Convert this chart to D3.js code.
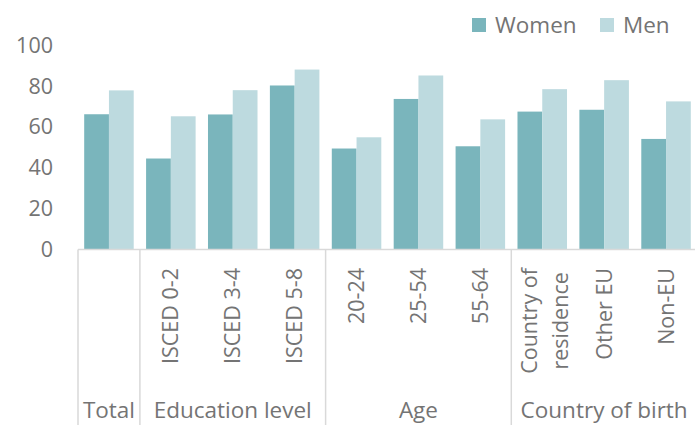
<!DOCTYPE html>
<html>
<head>
<meta charset="utf-8">
<script src="https://cdn.jsdelivr.net/npm/d3@7"></script>
<style>
  body { margin: 0; background: #fff; }
  svg { display: block; font-family: "Open Sans", Lato, sans-serif; }
</style>
</head>
<body>
<div class="chart"></div>
<script>
// data
const categories = ['total', 'isced02', 'isced34', 'isced58', 'a2024', 'a2554', 'a5564', 'cor', 'othereu', 'noneu'];
const tickLabels = [[], ['ISCED 0-2'], ['ISCED 3-4'], ['ISCED 5-8'], ['20-24'], ['25-54'], ['55-64'],
                    ['Country of', 'residence'], ['Other EU'], ['Non-EU']];
const women = [66.3, 44.6, 66.2, 80.4, 49.5, 73.8, 50.6, 67.6, 68.5, 54.2];
const men = [78.0, 65.3, 78.1, 88.2, 55.0, 85.3, 63.8, 78.6, 83.0, 72.6];
const groupNames = ['Total', 'Education level', 'Age', 'Country of birth'];
const groupSizes = [1, 3, 3, 3];
const yTicks = [0, 20, 40, 60, 80, 100];
const seriesNames = ['Women', 'Men'];
const seriesColors = ['#7ab5bc', '#bddadf'];

const W = 695, H = 425;
const textColor = '#747474';
const lineColor = '#d9d9d9';
const fontSize = '21.5px';
const bigFont = '22.5px';

const svg = d3.select('.chart').append('svg')
  .attr('width', W).attr('height', H);

// scales
const x = d3.scaleBand().domain(categories).range([78, 697])
  .paddingInner(0.2).paddingOuter(0.1);
const xSub = d3.scaleBand().domain(seriesNames).range([0, x.bandwidth()]);
const y = d3.scaleLinear().domain([0, 100]).range([249.5, 45.5]);
const step = x.step();
const left = x.range()[0];

// bars
const rows = categories.map((c, i) => ({ cat: c, values: [women[i], men[i]] }));
svg.append('g').selectAll('g')
  .data(rows)
  .join('g')
  .attr('transform', d => `translate(${x(d.cat)},0)`)
  .selectAll('rect')
  .data(d => d.values.map((v, j) => ({ name: seriesNames[j], value: v, color: seriesColors[j] })))
  .join('rect')
  .attr('x', d => xSub(d.name))
  .attr('width', xSub.bandwidth())
  .attr('y', d => y(d.value))
  .attr('height', d => y(0) - y(d.value))
  .attr('fill', d => d.color);

// y axis: labels only
const yAxis = d3.axisLeft(y).tickValues(yTicks).tickSize(0).tickPadding(0);
const yG = svg.append('g').attr('transform', 'translate(53,0)').call(yAxis);
yG.select('.domain').remove();
yG.selectAll('text')
  .attr('fill', textColor)
  .style('font-size', fontSize)
  .style('font-family', '"Open Sans", sans-serif');

// x axis line
svg.append('line')
  .attr('x1', left).attr('x2', W)
  .attr('y1', y(0)).attr('y2', y(0))
  .attr('stroke', lineColor).attr('stroke-width', 1.5);

// group separators
let acc = 0;
const bounds = [0];
groupSizes.forEach(n => { acc += n; bounds.push(acc); });
svg.append('g').selectAll('line')
  .data(bounds.slice(0, -1))
  .join('line')
  .attr('x1', d => left + d * step).attr('x2', d => left + d * step)
  .attr('y1', y(0)).attr('y2', H)
  .attr('stroke', lineColor).attr('stroke-width', 1.5);

// rotated category labels
const labG = svg.append('g').selectAll('g')
  .data(categories.map((c, i) => ({ cat: c, lines: tickLabels[i] })))
  .join('g')
  .attr('transform', d => `translate(${x(d.cat) + x.bandwidth() / 2},0)`);

labG.each(function (d) {
  const g = d3.select(this);
  const n = d.lines.length;
  const texts = g.selectAll('text')
    .data(d.lines)
    .join('text')
    .attr('fill', textColor)
    .style('font-size', fontSize)
    .text(t => t);
  // longest line sets where the block sits, the others are centred on it
  let maxLen = 0;
  texts.each(function () { maxLen = Math.max(maxLen, this.getComputedTextLength()); });
  const cy = 268 + maxLen / 2;
  texts
    .attr('text-anchor', 'middle')
    .attr('transform', (t, i) => `translate(${n === 1 ? 0 : -13 + i * 31},${cy}) rotate(-90)`)
    .attr('dy', '0.35em');
});

// group labels
svg.append('g').selectAll('text')
  .data(groupNames.map((g, i) => ({ name: g, a: bounds[i], b: bounds[i + 1] })))
  .join('text')
  .attr('x', d => left + (d.a + d.b) / 2 * step)
  .attr('y', 418)
  .attr('text-anchor', 'middle')
  .attr('fill', textColor)
  .style('font-size', bigFont)
  .text(d => d.name);

// legend
const legX = [472, 600];
const leg = svg.append('g').selectAll('g')
  .data(seriesNames)
  .join('g')
  .attr('transform', (d, i) => `translate(${legX[i]},18)`);
leg.append('rect')
  .attr('width', 14).attr('height', 14)
  .attr('fill', (d, i) => seriesColors[i]);
leg.append('text')
  .attr('x', 23).attr('y', 15)
  .attr('fill', textColor)
  .style('font-size', bigFont)
  .text(d => d);
</script>
</body>
</html>
